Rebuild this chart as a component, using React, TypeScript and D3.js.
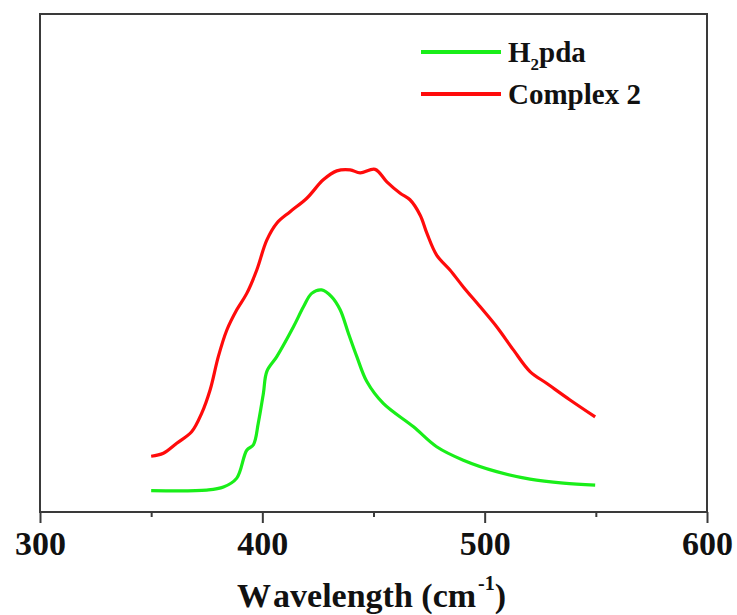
import React, { useEffect, useRef } from 'react'
import * as d3 from 'd3'

// wavelength positions / intensities (arbitrary units)
const h2pdaX = [350, 375, 382.5, 388.5, 393, 396, 398.2, 400.5, 402, 406.5, 414, 418.5, 422.2, 426.7, 431.2, 435, 438.7, 442.5, 447, 454.4, 468, 478.4, 490.4, 505.4, 520.4, 535.4, 549.7]
const h2pdaY = [0.043, 0.044, 0.05, 0.068, 0.124, 0.135, 0.179, 0.239, 0.282, 0.312, 0.372, 0.412, 0.439, 0.446, 0.432, 0.406, 0.359, 0.312, 0.262, 0.218, 0.171, 0.131, 0.104, 0.081, 0.066, 0.058, 0.054]

const complexX = [350, 355.5, 361.5, 368.2, 372.7, 376.5, 380.2, 384, 388.5, 393, 397.5, 402, 406.5, 412.5, 420, 427.4, 433.5, 439.5, 444, 450.7, 456, 462, 466.4, 471, 474, 478.4, 484.4, 490.4, 498, 505.4, 513, 520.4, 528, 538.4, 549.7]
const complexY = [0.112, 0.118, 0.138, 0.161, 0.198, 0.245, 0.312, 0.365, 0.406, 0.439, 0.486, 0.546, 0.58, 0.603, 0.63, 0.667, 0.685, 0.687, 0.681, 0.688, 0.663, 0.64, 0.627, 0.596, 0.56, 0.516, 0.486, 0.452, 0.412, 0.372, 0.325, 0.282, 0.258, 0.225, 0.191]

const majorTicks = [300, 400, 500, 600]
const minorTicks = [350, 450, 550]

const seriesNames = ['H2pda', 'Complex 2']
const seriesColors = ['#19ee19', '#ff0b0b']

const W = 737
const H = 615
const FONT = '"Liberation Serif", "Times New Roman", serif'

export default function App() {
    const svgRef = useRef<SVGSVGElement>(null)

    useEffect(() => {
        if (!svgRef.current) return
        const svg = d3.select(svgRef.current)
        svg.selectAll('*').remove()

        const left = 40, right = 707, top = 14, bottom = 512
        const x = d3.scaleLinear().domain([300, 600]).range([left, right])
        const y = d3.scaleLinear().domain([0, 1]).range([bottom, top])

        const series = [
            h2pdaX.map((v, i) => [v, h2pdaY[i]] as [number, number]),
            complexX.map((v, i) => [v, complexY[i]] as [number, number]),
        ]

        const line = d3.line<[number, number]>()
            .x(d => x(d[0]))
            .y(d => y(d[1]))
            .curve(d3.curveCatmullRom.alpha(0.5))

        series.forEach((s, i) => {
            svg.append('path')
                .attr('d', line(s))
                .attr('fill', 'none')
                .attr('stroke', seriesColors[i])
                .attr('stroke-width', 3.2)
                .attr('stroke-linejoin', 'round')
        })

        // frame
        svg.append('rect')
            .attr('x', left).attr('y', top)
            .attr('width', right - left).attr('height', bottom - top)
            .attr('fill', 'none')
            .attr('stroke', '#3a3a3a')
            .attr('stroke-width', 2)

        const axis = svg.append('g').attr('transform', `translate(0,${bottom})`)
            .call(d3.axisBottom(x).tickValues(majorTicks).tickSize(11).tickPadding(8).tickFormat(d3.format('d')))
        axis.select('.domain').remove()
        axis.selectAll('line').attr('stroke', '#3a3a3a').attr('stroke-width', 2)
        axis.selectAll('text')
            .attr('font-family', FONT)
            .attr('font-weight', 'bold')
            .attr('font-size', 34)
            .attr('fill', '#111')

        const minor = svg.append('g').attr('transform', `translate(0,${bottom})`)
            .call(d3.axisBottom(x).tickValues(minorTicks).tickSize(5).tickFormat(() => ''))
        minor.select('.domain').remove()
        minor.selectAll('line').attr('stroke', '#3a3a3a').attr('stroke-width', 2)

        // x title
        const title = svg.append('text')
            .attr('x', (left + right) / 2 - 2)
            .attr('y', 607)
            .attr('text-anchor', 'middle')
            .attr('font-family', FONT)
            .attr('font-weight', 'bold')
            .attr('font-size', 34)
            .attr('fill', '#111')
        title.append('tspan').text('W')
        title.append('tspan').attr('dx', 4).text('avelength (cm')
        title.append('tspan').attr('font-size', 20).attr('dx', 2).attr('dy', -17).text('-1')
        title.append('tspan').attr('dy', 17).text(')')

        // legend
        const legendY = [52, 94]
        legendY.forEach((ly, i) => {
            svg.append('line')
                .attr('x1', 421).attr('x2', 501)
                .attr('y1', ly).attr('y2', ly)
                .attr('stroke', seriesColors[i])
                .attr('stroke-width', 4)
            const t = svg.append('text')
                .attr('x', 508).attr('y', ly + 10)
                .attr('font-family', FONT)
                .attr('font-weight', 'bold')
                .attr('font-size', 29)
                .attr('fill', '#111')
            if (i === 0) {
                t.append('tspan').text('H')
                t.append('tspan').attr('font-size', 17).attr('dy', 8).text('2')
                t.append('tspan').attr('dy', -8).text('pda')
            } else {
                t.text(seriesNames[i])
            }
        })
    }, [])

    return (
        <svg ref={svgRef} width={W} height={H}
            style={{ position: 'absolute', left: 0, top: 0, background: '#fff' }} />
    )
}
